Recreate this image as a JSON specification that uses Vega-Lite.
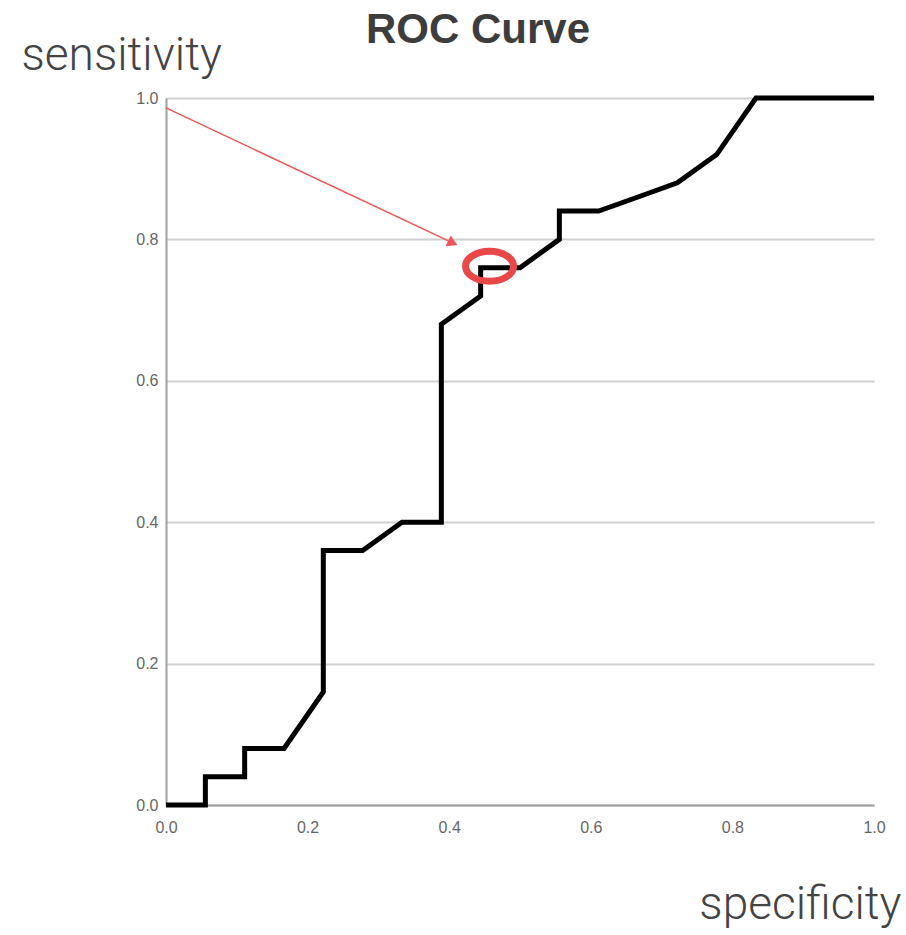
{
  "$schema": "https://vega.github.io/schema/vega-lite/v6.json",
  "width": 708,
  "height": 707,
  "autosize": {"type": "none"},
  "padding": {"left": 166, "top": 98, "right": 32, "bottom": 130},
  "background": "white",
  "config": {"view": {"stroke": null}},
  "title": {
    "text": "ROC Curve",
    "font": "Liberation Sans",
    "fontWeight": "bold",
    "fontSize": 42,
    "color": "#3d3d3d",
    "anchor": "middle",
    "dx": -42,
    "dy": 53,
    "offset": 0,
    "baseline": "alphabetic"
  },
  "datasets": {
    "roc": [
      {"specificity": 0.0, "sensitivity": 0.0, "i": 0},
      {"specificity": 0.0556, "sensitivity": 0.0, "i": 1},
      {"specificity": 0.0556, "sensitivity": 0.04, "i": 2},
      {"specificity": 0.1111, "sensitivity": 0.04, "i": 3},
      {"specificity": 0.1111, "sensitivity": 0.08, "i": 4},
      {"specificity": 0.1667, "sensitivity": 0.08, "i": 5},
      {"specificity": 0.2222, "sensitivity": 0.16, "i": 6},
      {"specificity": 0.2222, "sensitivity": 0.36, "i": 7},
      {"specificity": 0.2778, "sensitivity": 0.36, "i": 8},
      {"specificity": 0.3333, "sensitivity": 0.4, "i": 9},
      {"specificity": 0.3889, "sensitivity": 0.4, "i": 10},
      {"specificity": 0.3889, "sensitivity": 0.68, "i": 11},
      {"specificity": 0.4444, "sensitivity": 0.72, "i": 12},
      {"specificity": 0.4444, "sensitivity": 0.76, "i": 13},
      {"specificity": 0.5, "sensitivity": 0.76, "i": 14},
      {"specificity": 0.5556, "sensitivity": 0.8, "i": 15},
      {"specificity": 0.5556, "sensitivity": 0.84, "i": 16},
      {"specificity": 0.6111, "sensitivity": 0.84, "i": 17},
      {"specificity": 0.6667, "sensitivity": 0.86, "i": 18},
      {"specificity": 0.7222, "sensitivity": 0.88, "i": 19},
      {"specificity": 0.7778, "sensitivity": 0.92, "i": 20},
      {"specificity": 0.8333, "sensitivity": 1.0, "i": 21},
      {"specificity": 1.0, "sensitivity": 1.0, "i": 22}
    ],
    "arrow": [
      {"specificity": 0.0, "sensitivity": 0.986, "i": 0},
      {"specificity": 0.405, "sensitivity": 0.795, "i": 1}
    ],
    "arrowhead": [
      {"specificity": 0.405, "sensitivity": 0.795}
    ],
    "marker": [
      {"specificity": 0.457, "sensitivity": 0.762}
    ]
  },
  "layer": [
    {
      "data": {"name": "roc"},
      "mark": {"type": "line", "color": "black", "strokeWidth": 5, "strokeJoin": "miter", "strokeCap": "butt"},
      "encoding": {
        "x": {
          "field": "specificity", "type": "quantitative",
          "scale": {"domain": [0, 1], "nice": false, "zero": false},
          "axis": {
            "values": [0, 0.2, 0.4, 0.6, 0.8, 1.0], "format": ".1f",
            "grid": false, "ticks": false,
            "domainColor": "#a0a0a0", "domainWidth": 2,
            "labelFont": "Liberation Sans", "labelFontSize": 16, "labelColor": "#666666",
            "labelPadding": 14, "labelFlush": false,
            "title": "specificity",
            "titleFont": "Roboto", "titleFontWeight": 300, "titleFontSize": 46, "titleColor": "#444444",
            "titleAnchor": "end", "titleAlign": "right", "titleBaseline": "alphabetic",
            "titleX": 735, "titleY": 113
          }
        },
        "y": {
          "field": "sensitivity", "type": "quantitative",
          "scale": {"domain": [0, 1], "nice": false, "zero": false},
          "axis": {
            "values": [0, 0.2, 0.4, 0.6, 0.8, 1.0], "format": ".1f",
            "grid": true, "gridColor": "#d0d0d0", "gridWidth": 2,
            "ticks": false,
            "domainColor": "#a0a0a0", "domainWidth": 2,
            "labelFont": "Liberation Sans", "labelFontSize": 16, "labelColor": "#666666",
            "labelPadding": 8, "labelFlush": false,
            "title": "sensitivity",
            "titleFont": "Roboto", "titleFontWeight": 300, "titleFontSize": 46, "titleColor": "#444444",
            "titleAngle": 0, "titleAlign": "left", "titleBaseline": "alphabetic",
            "titleX": -145, "titleY": -29
          }
        },
        "order": {"field": "i", "type": "quantitative"}
      }
    },
    {
      "data": {"name": "arrow"},
      "mark": {"type": "line", "color": "#ee5555", "strokeWidth": 1.5},
      "encoding": {
        "x": {"field": "specificity", "type": "quantitative"},
        "y": {"field": "sensitivity", "type": "quantitative"},
        "order": {"field": "i", "type": "quantitative"}
      }
    },
    {
      "data": {"name": "arrowhead"},
      "mark": {"type": "point", "shape": "triangle-right", "filled": true, "color": "#ee5555", "size": 140, "angle": 25, "opacity": 1},
      "encoding": {
        "x": {"field": "specificity", "type": "quantitative"},
        "y": {"field": "sensitivity", "type": "quantitative"}
      }
    },
    {
      "data": {"name": "marker"},
      "mark": {"type": "point", "shape": "M -1 0 A 1 0.625 0 1 0 1 0 A 1 0.625 0 1 0 -1 0 Z", "filled": false, "stroke": "#e84848", "strokeWidth": 7, "size": 2304, "opacity": 1},
      "encoding": {
        "x": {"field": "specificity", "type": "quantitative"},
        "y": {"field": "sensitivity", "type": "quantitative"}
      }
    }
  ]
}
